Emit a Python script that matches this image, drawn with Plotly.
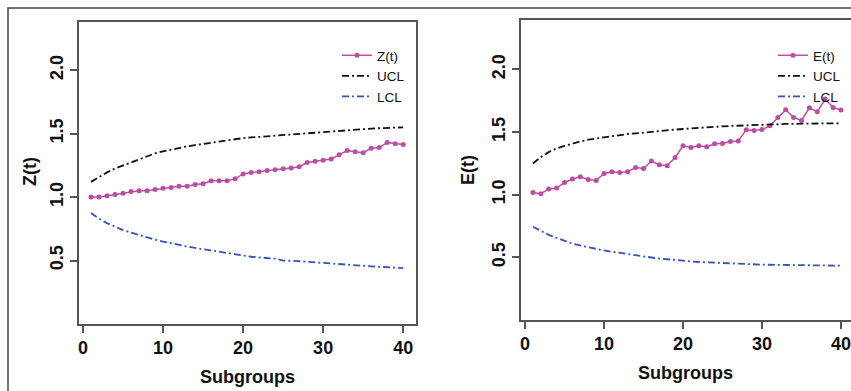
import plotly.graph_objects as go

W, H = 851, 391

subgroups = list(range(1, 41))

z_values = [1.00, 1.00, 1.01, 1.02, 1.03, 1.045, 1.05, 1.05, 1.06, 1.07,
            1.075, 1.085, 1.085, 1.10, 1.105, 1.128, 1.128, 1.128, 1.144, 1.183,
            1.194, 1.20, 1.21, 1.215, 1.223, 1.23, 1.24, 1.273, 1.283, 1.29,
            1.30, 1.333, 1.367, 1.357, 1.35, 1.385, 1.39, 1.43, 1.42, 1.415]
z_ucl = [1.12, 1.16, 1.195, 1.225, 1.25, 1.275, 1.30, 1.32, 1.345, 1.36,
         1.375, 1.39, 1.40, 1.41, 1.42, 1.43, 1.44, 1.45, 1.455, 1.465,
         1.47, 1.475, 1.48, 1.485, 1.49, 1.495, 1.50, 1.505, 1.51, 1.515,
         1.52, 1.525, 1.53, 1.535, 1.538, 1.54, 1.543, 1.546, 1.548, 1.55]
z_lcl = [0.875, 0.83, 0.795, 0.765, 0.74, 0.72, 0.70, 0.685, 0.665, 0.65,
         0.635, 0.62, 0.61, 0.60, 0.59, 0.58, 0.57, 0.56, 0.55, 0.535,
         0.53, 0.525, 0.52, 0.515, 0.50, 0.50, 0.495, 0.49, 0.485, 0.48,
         0.477, 0.473, 0.47, 0.465, 0.46, 0.455, 0.45, 0.448, 0.445, 0.44]

e_values = [1.018, 1.008, 1.045, 1.053, 1.098, 1.125, 1.144, 1.122, 1.114, 1.17,
            1.184, 1.178, 1.184, 1.218, 1.21, 1.269, 1.24, 1.231, 1.298, 1.391,
            1.378, 1.391, 1.383, 1.407, 1.41, 1.425, 1.43, 1.519, 1.513, 1.521,
            1.55, 1.617, 1.678, 1.617, 1.593, 1.694, 1.662, 1.764, 1.697, 1.676]
e_ucl = [1.25, 1.30, 1.34, 1.37, 1.39, 1.41, 1.425, 1.44, 1.45, 1.46,
         1.47, 1.478, 1.485, 1.49, 1.497, 1.503, 1.51, 1.515, 1.52, 1.525,
         1.53, 1.535, 1.54, 1.543, 1.546, 1.549, 1.552, 1.555, 1.557, 1.559,
         1.561, 1.563, 1.565, 1.566, 1.567, 1.568, 1.569, 1.57, 1.57, 1.571]
e_lcl = [0.745, 0.71, 0.68, 0.655, 0.63, 0.61, 0.595, 0.58, 0.565, 0.555,
         0.545, 0.535, 0.525, 0.515, 0.505, 0.50, 0.49, 0.485, 0.478, 0.472,
         0.468, 0.463, 0.46, 0.456, 0.453, 0.45, 0.448, 0.446, 0.444, 0.442,
         0.441, 0.44, 0.439, 0.438, 0.437, 0.436, 0.435, 0.435, 0.434, 0.434]

x_ticks = [0, 10, 20, 30, 40]
y_ticks = [0.5, 1.0, 1.5, 2.0]
y_tick_text = ["0.5", "1.0", "1.5", "2.0"]

MAG = "#BC4DA2"
BLUE = "#3552C0"
BLACK = "#111111"
DASH = "7px,3px,2px,3px"
FONT = "Liberation Sans, Arial, sans-serif"


def px(x):
    return x / W


def py(y):
    return 1 - y / H


fig = go.Figure()

panels = [
    ("x", "y", "legend", "Z(t)", z_values, z_ucl, z_lcl),
    ("x2", "y2", "legend2", "E(t)", e_values, e_ucl, e_lcl),
]
for xa, ya, lg, name, vals, ucl, lcl in panels:
    fig.add_trace(go.Scatter(x=subgroups, y=vals, mode="lines+markers", name=name,
                             line=dict(color=MAG, width=1.5),
                             marker=dict(color=MAG, size=5),
                             xaxis=xa, yaxis=ya, legend=lg))
    fig.add_trace(go.Scatter(x=subgroups, y=ucl, mode="lines", name="UCL",
                             line=dict(color=BLACK, width=1.8, dash=DASH),
                             xaxis=xa, yaxis=ya, legend=lg))
    fig.add_trace(go.Scatter(x=subgroups, y=lcl, mode="lines", name="LCL",
                             line=dict(color=BLUE, width=1.8, dash=DASH),
                             xaxis=xa, yaxis=ya, legend=lg))

axis_common = dict(showgrid=False, zeroline=False, showline=True,
                   linecolor="#555555", linewidth=1.5, ticks="outside", ticklen=7,
                   tickcolor="#555555", tickwidth=1.5,
                   tickfont=dict(family=FONT, size=18, color=BLACK, weight="bold"))

legend_font = dict(family=FONT, size=13.5, color=BLACK)

fig.update_layout(
    width=W, height=H,
    margin=dict(l=0, r=0, t=0, b=0),
    paper_bgcolor="white", plot_bgcolor="white",
    showlegend=True,
    xaxis=dict(domain=[px(79), px(416)], range=[-0.5, 41.6], tickvals=x_ticks,
               anchor="y", mirror=True, **axis_common),
    yaxis=dict(domain=[py(324), py(22)], range=[0, 2.38], tickvals=y_ticks,
               ticktext=y_tick_text, tickangle=-90, anchor="x", mirror=True,
               **axis_common),
    xaxis2=dict(domain=[px(521), 1.0], range=[-0.51, 41.27], tickvals=x_ticks,
                anchor="y2", mirror=True, **axis_common),
    yaxis2=dict(domain=[py(320), py(20)], range=[0, 2.395], tickvals=y_ticks,
                ticktext=y_tick_text, tickangle=-90, anchor="x2", mirror=False,
                **axis_common),
    legend=dict(x=px(337), y=py(40), xanchor="left", yanchor="top",
                bgcolor="rgba(0,0,0,0)", borderwidth=0,
                font=legend_font, tracegroupgap=0),
    legend2=dict(x=px(773), y=py(40), xanchor="left", yanchor="top",
                 bgcolor="rgba(0,0,0,0)", borderwidth=0,
                 font=legend_font, tracegroupgap=0),
    annotations=[
        dict(text="<b>Subgroups</b>", x=px(247), y=py(377), xref="paper", yref="paper",
             xanchor="center", yanchor="middle",
             showarrow=False, font=dict(family=FONT, size=18, color=BLACK)),
        dict(text="<b>Subgroups</b>", x=px(685), y=py(373), xref="paper", yref="paper",
             xanchor="center", yanchor="middle",
             showarrow=False, font=dict(family=FONT, size=18, color=BLACK)),
        dict(text="<b>Z(t)</b>", x=px(30), y=py(172), xref="paper", yref="paper",
             xanchor="center", yanchor="middle",
             showarrow=False, textangle=-90, font=dict(family=FONT, size=18, color=BLACK)),
        dict(text="<b>E(t)</b>", x=px(468), y=py(170), xref="paper", yref="paper",
             xanchor="center", yanchor="middle",
             showarrow=False, textangle=-90, font=dict(family=FONT, size=18, color=BLACK)),
    ],
    shapes=[
        dict(type="rect", xref="paper", yref="paper", x0=px(8), x1=px(870),
             y0=py(420), y1=py(8), line=dict(color="#444444", width=1.5)),
    ],
)

fig.write_html("out.html")
